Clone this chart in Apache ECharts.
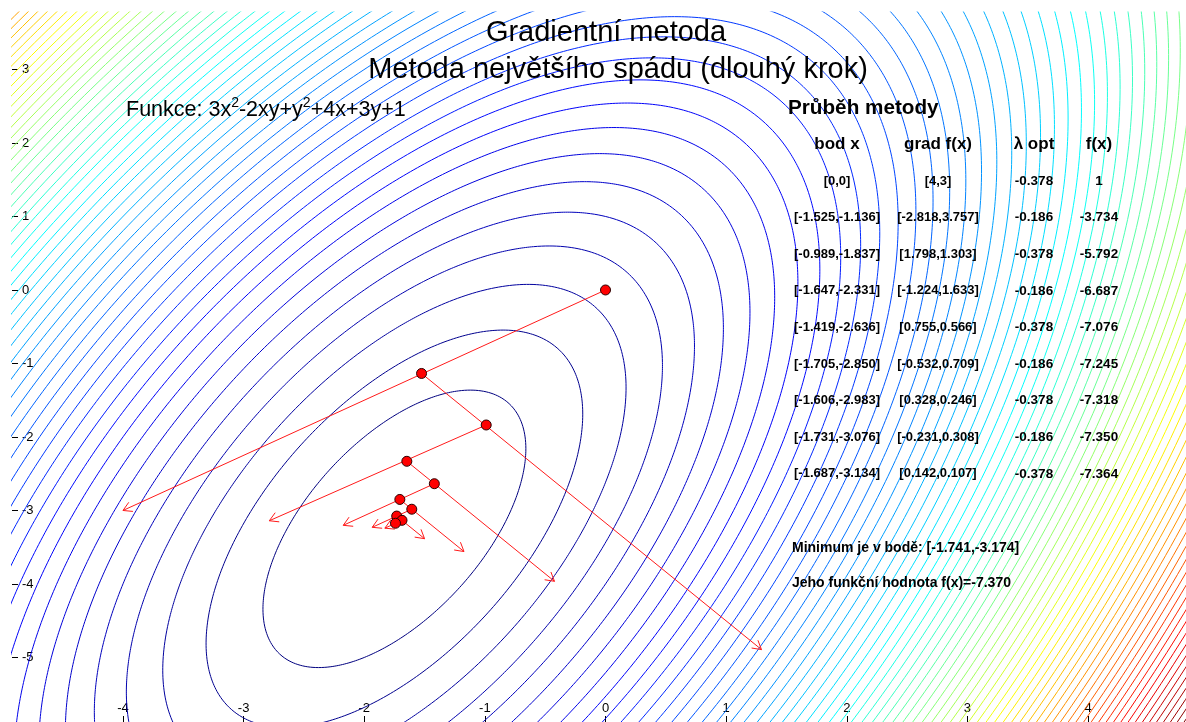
<!DOCTYPE html>
<html>
<head>
<meta charset="utf-8">
<script src="https://cdn.jsdelivr.net/npm/echarts@6/dist/echarts.min.js"></script>
<style>
html,body{margin:0;padding:0;background:#fff;}
#c{width:1186px;height:722px;}
</style>
</head>
<body>
<div id="c"></div>
<script>
// f(x,y) = a x^2 + b xy + c y^2 + d x + e y + g
const funcCoef = [3, -2, 1, 4, 3, 1];
const contourLevels = [-5,-2.5,0,2.5,5,7.5,10,12.5,15,17.5,20,22.5,25,27.5,30,32.5,35,37.5,40,42.5,45,47.5,50,52.5,55,57.5,60,62.5,65,67.5,70,72.5,75,77.5,80,82.5,85,87.5,90,92.5,95,97.5,100,102.5,105,107.5,110,112.5,115,117.5,120,122.5,125,127.5,130,132.5,135,137.5,140,142.5,145,147.5,150,152.5,155,157.5,160,162.5];
const pointX = [0, -1.525, -0.989, -1.647, -1.419, -1.705, -1.606, -1.731, -1.687];
const pointY = [0, -1.136, -1.837, -2.331, -2.636, -2.850, -2.983, -3.076, -3.134];
const gradX = [4, -2.818, 1.798, -1.224, 0.755, -0.532, 0.328, -0.231, 0.142];
const gradY = [3, 3.757, 1.303, 1.633, 0.566, 0.709, 0.246, 0.308, 0.107];
const lambdaOpt = [-0.378, -0.186, -0.378, -0.186, -0.378, -0.186, -0.378, -0.186, -0.378];
const fValues = [1, -3.734, -5.792, -6.687, -7.076, -7.245, -7.318, -7.350, -7.364];
const minPoint = [-1.741, -3.174];
const minValue = -7.370;
const xTicks = [-4, -3, -2, -1, 0, 1, 2, 3, 4];
const yTicks = [-5, -4, -3, -2, -1, 0, 1, 2, 3];

const FONT = "'Liberation Sans', Arial, sans-serif";
const jetStops = ['#00007F', '#0000FF', '#007FFF', '#00FFFF', '#7FFF7F', '#FFFF00', '#FF7F00', '#FF0000', '#7F0000'];

function hexToRgb(h) { return [parseInt(h.substr(1,2),16), parseInt(h.substr(3,2),16), parseInt(h.substr(5,2),16)]; }
function jet(t) {
  const n = jetStops.length - 1;
  const p = Math.max(0, Math.min(1, t)) * n;
  const i = Math.min(n - 1, Math.floor(p));
  const f = p - i;
  const a = hexToRgb(jetStops[i]), b = hexToRgb(jetStops[i + 1]);
  const c = a.map((v, k) => Math.round(v + (b[k] - v) * f));
  return 'rgb(' + c.join(',') + ')';
}
function fmt(v) { return Number.isInteger(v) ? String(v) : v.toFixed(3); }

// contour lines (exact level sets of the quadratic)
const [A, B, C, D, E, G] = funcCoef;
const det = 4 * A * C - B * B;
const cx = (-2 * C * D + B * E) / det;
const cy = (-2 * A * E + B * D) / det;
const fmin = A * cx * cx + B * cx * cy + C * cy * cy + D * cx + E * cy + G;
const L11 = Math.sqrt(A), L21 = (B / 2) / L11, L22 = Math.sqrt(C - L21 * L21);
const NPTS = 720;
const contourSeries = contourLevels.map((lv, idx) => {
  const k = lv - fmin;
  const data = [];
  if (k > 0) {
    const r = Math.sqrt(k);
    for (let i = 0; i <= NPTS; i++) {
      const t = 2 * Math.PI * i / NPTS;
      const u1 = r * Math.cos(t), u2 = r * Math.sin(t);
      const d2 = u2 / L22;
      const d1 = (u1 - L21 * d2) / L11;
      data.push([cx + d1, cy + d2]);
    }
  }
  return {
    type: 'line', data: data, showSymbol: false, symbol: 'none', silent: true,
    animation: false, clip: true, z: 1,
    lineStyle: { color: jet(idx / (contourLevels.length - 1)), width: 1 }
  };
});

const arrowData = pointX.map((x, i) => [x, pointY[i], x - gradX[i], pointY[i] - gradY[i]]);
const dotData = pointX.map((x, i) => [x, pointY[i]]).concat([minPoint]);

const graphics = [];
function addText(text, x, y, size, weight, align) {
  graphics.push({
    type: 'text', x: x, y: y, z: 100, silent: true,
    style: { text: text, fontSize: size, fontFamily: FONT, fontWeight: weight, fill: '#000',
             align: align, verticalAlign: 'middle', textAlign: align, textVerticalAlign: 'middle' }
  });
}
addText('Gradientní metoda', 606, 33, 29, 'normal', 'center');
addText('Metoda největšího spádu (dlouhý krok)', 618, 70, 29, 'normal', 'center');
graphics.push({
  type: 'text', x: 126, y: 110, z: 100, silent: true,
  style: {
    text: '{n|Funkce: 3x}{s|2}{n|-2xy+y}{s|2}{n|+4x+3y+1}',
    align: 'left', verticalAlign: 'middle', textAlign: 'left', textVerticalAlign: 'middle',
    rich: {
      n: { fontSize: 21.5, fontFamily: FONT, fill: '#000', lineHeight: 28 },
      s: { fontSize: 14, fontFamily: FONT, fill: '#000', lineHeight: 14, verticalAlign: 'top' }
    }
  }
});
addText('Průběh metody', 788, 108, 20.7, 'bold', 'left');
const colX = [837, 938, 1034, 1099];
const headers = ['bod x', 'grad f(x)', 'λ opt', 'f(x)'];
headers.forEach((h, j) => addText(h, colX[j], 144, 17, 'bold', 'center'));
pointX.forEach((x, i) => {
  const y = 181 + i * 36.6;
  addText('[' + fmt(x) + ',' + fmt(pointY[i]) + ']', colX[0], y, 13, 'bold', 'center');
  addText('[' + fmt(gradX[i]) + ',' + fmt(gradY[i]) + ']', colX[1], y, 13, 'bold', 'center');
  addText(fmt(lambdaOpt[i]), colX[2], y, 13.5, 'bold', 'center');
  addText(fmt(fValues[i]), colX[3], y, 13.5, 'bold', 'center');
});
addText('Minimum je v bodě: [' + fmt(minPoint[0]) + ',' + fmt(minPoint[1]) + ']', 792, 548, 14, 'bold', 'left');
addText('Jeho funkční hodnota f(x)=' + fmt(minValue), 792, 583, 14, 'bold', 'left');

const chart = echarts.init(document.getElementById('c'), null, { renderer: 'canvas' });
chart.setOption({
  animation: false,
  backgroundColor: '#ffffff',
  grid: { left: 12, top: 12, right: 0, bottom: 0, containLabel: false, outerBoundsMode: 'none' },
  xAxis: {
    type: 'value', min: -4.920, max: 4.812, position: 'bottom',
    axisLine: { show: false, onZero: false }, splitLine: { show: false },
    axisTick: { show: true, inside: true, length: 6, lineStyle: { color: '#000', width: 1 }, customValues: xTicks },
    axisLabel: { show: true, inside: true, margin: 7, color: '#000', fontSize: 13, fontFamily: FONT, customValues: xTicks }
  },
  yAxis: {
    type: 'value', min: -5.878, max: 3.782, position: 'left',
    axisLine: { show: false, onZero: false }, splitLine: { show: false },
    axisTick: { show: true, inside: true, length: 6, lineStyle: { color: '#000', width: 1 }, customValues: yTicks },
    axisLabel: { show: true, inside: true, margin: 10, color: '#000', fontSize: 13, fontFamily: FONT, customValues: yTicks }
  },
  graphic: graphics,
  series: contourSeries.concat([
    {
      type: 'custom', silent: true, z: 3, clip: false,
      encode: { x: [0, 2], y: [1, 3] },
      data: arrowData,
      renderItem: function (params, api) {
        const p0 = api.coord([api.value(0), api.value(1)]);
        const p1 = api.coord([api.value(2), api.value(3)]);
        const ang = Math.atan2(p1[1] - p0[1], p1[0] - p0[0]);
        const hl = 10, ha = Math.PI / 6;
        const h1 = [p1[0] - hl * Math.cos(ang - ha), p1[1] - hl * Math.sin(ang - ha)];
        const h2 = [p1[0] - hl * Math.cos(ang + ha), p1[1] - hl * Math.sin(ang + ha)];
        const st = { stroke: '#ff1a1a', lineWidth: 1, fill: 'none' };
        return {
          type: 'group',
          children: [
            { type: 'polyline', shape: { points: [p0, p1] }, style: st },
            { type: 'polyline', shape: { points: [h1, p1, h2] }, style: st }
          ]
        };
      }
    },
    {
      type: 'scatter', data: dotData, symbol: 'circle', symbolSize: 10, z: 5, silent: true,
      itemStyle: { color: '#ff0000', borderColor: '#2a0000', borderWidth: 1, opacity: 1 }
    }
  ])
});
</script>
</body>
</html>
